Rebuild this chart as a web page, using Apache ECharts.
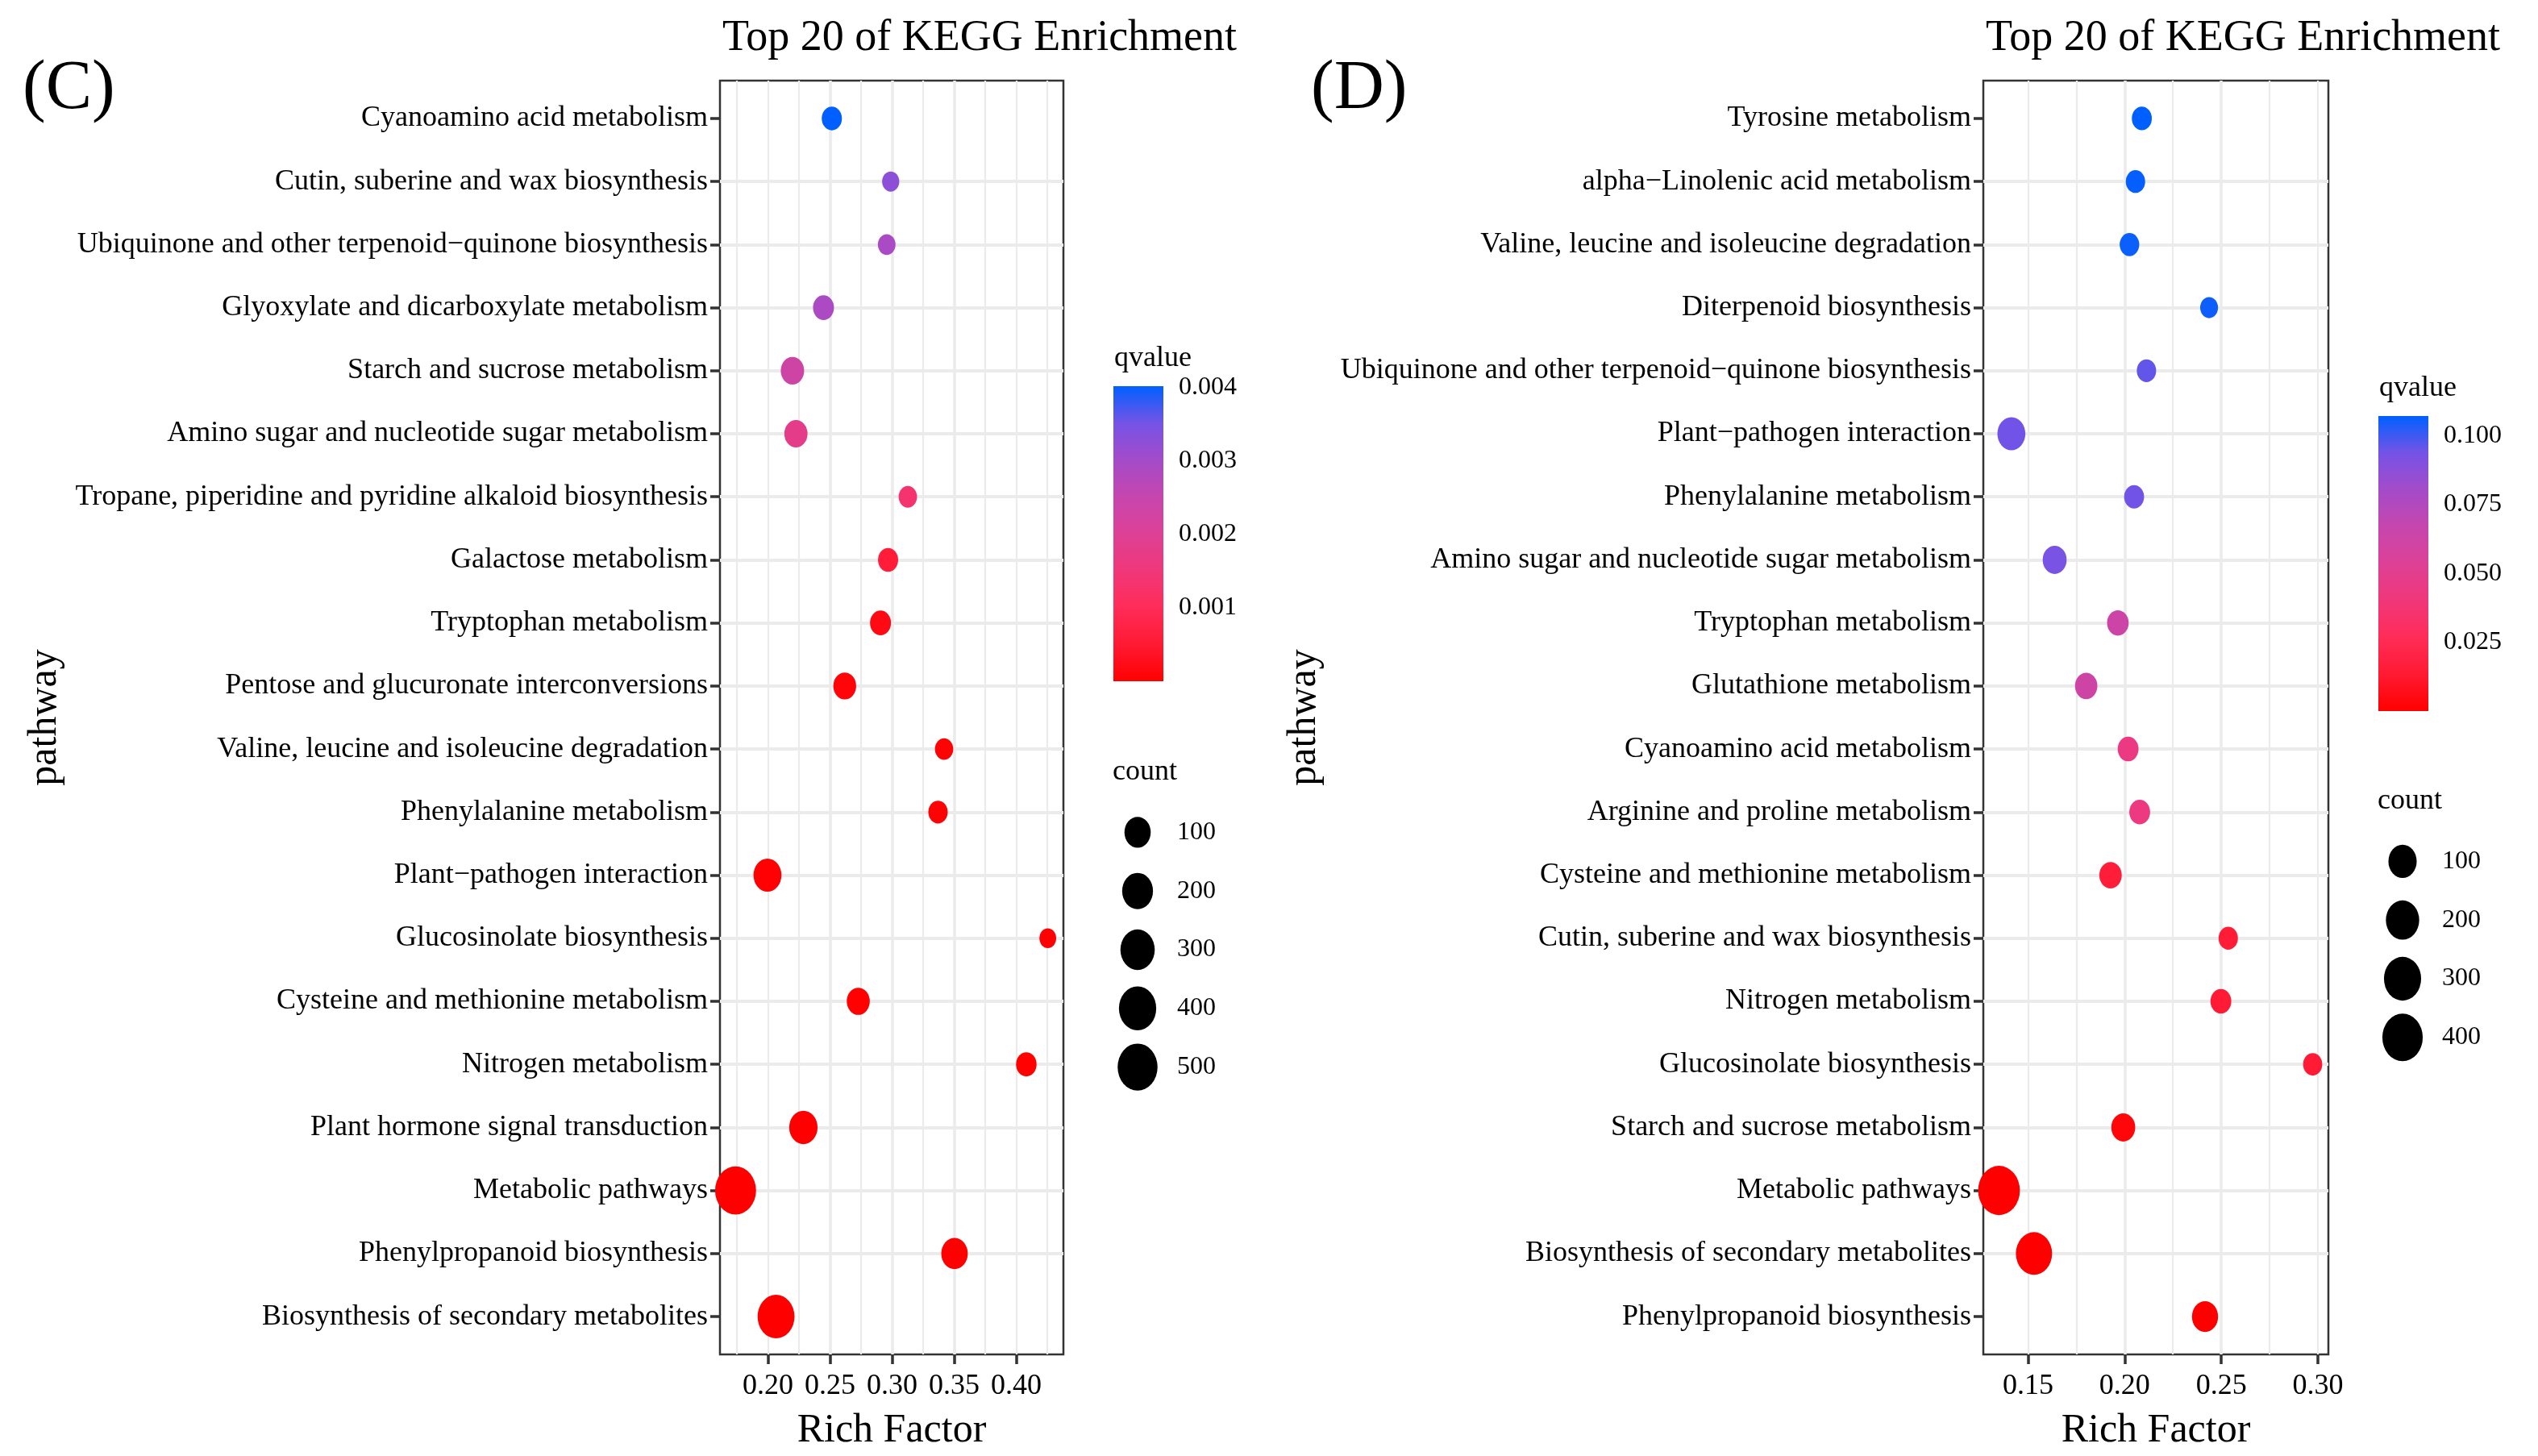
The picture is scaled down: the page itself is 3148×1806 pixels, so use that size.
<!DOCTYPE html>
<html>
<head>
<meta charset="utf-8">
<script src="https://cdn.jsdelivr.net/npm/echarts@6/dist/echarts.min.js"></script>
<style>
  html, body { margin: 0; padding: 0; background: #fff; }
  #main { width: 3148px; height: 1806px; }
</style>
</head>
<body>
<div id="main"></div>
<script>
var myChart = echarts.init(document.getElementById('main'));

// panel (C)
var namesC = [
  'Cyanoamino acid metabolism',
  'Cutin, suberine and wax biosynthesis',
  'Ubiquinone and other terpenoid\u2212quinone biosynthesis',
  'Glyoxylate and dicarboxylate metabolism',
  'Starch and sucrose metabolism',
  'Amino sugar and nucleotide sugar metabolism',
  'Tropane, piperidine and pyridine alkaloid biosynthesis',
  'Galactose metabolism',
  'Tryptophan metabolism',
  'Pentose and glucuronate interconversions',
  'Valine, leucine and isoleucine degradation',
  'Phenylalanine metabolism',
  'Plant\u2212pathogen interaction',
  'Glucosinolate biosynthesis',
  'Cysteine and methionine metabolism',
  'Nitrogen metabolism',
  'Plant hormone signal transduction',
  'Metabolic pathways',
  'Phenylpropanoid biosynthesis',
  'Biosynthesis of secondary metabolites'
];
var richC = [0.2515, 0.2989, 0.2957, 0.2448, 0.2198, 0.2226, 0.3127, 0.2968, 0.2907, 0.2619,
             0.3419, 0.3370, 0.1997, 0.4254, 0.2728, 0.4081, 0.2286, 0.1740, 0.3503, 0.2066];
var countC = [20, 3, 5, 27, 55, 52, 8, 20, 27, 48, 8, 14, 134, 2, 50, 23, 142, 543, 105, 387];
var qvalC = [0.00402, 0.00326, 0.00293, 0.0029, 0.00233, 0.0018, 0.00133, 0.0006, 0.0002, 0.0001,
             0.00004, 0.00003, 0.00002, 0.00002, 0.00001, 0.00001, 0.000005, 0.000001, 0.000001, 0.0000001];
var xTicksC = [0.20, 0.25, 0.30, 0.35, 0.40];
var qTicksC = [0.001, 0.002, 0.003, 0.004];
var sizeBreaksC = [100, 200, 300, 400, 500];

// panel (D)
var namesD = [
  'Tyrosine metabolism',
  'alpha\u2212Linolenic acid metabolism',
  'Valine, leucine and isoleucine degradation',
  'Diterpenoid biosynthesis',
  'Ubiquinone and other terpenoid\u2212quinone biosynthesis',
  'Plant\u2212pathogen interaction',
  'Phenylalanine metabolism',
  'Amino sugar and nucleotide sugar metabolism',
  'Tryptophan metabolism',
  'Glutathione metabolism',
  'Cyanoamino acid metabolism',
  'Arginine and proline metabolism',
  'Cysteine and methionine metabolism',
  'Cutin, suberine and wax biosynthesis',
  'Nitrogen metabolism',
  'Glucosinolate biosynthesis',
  'Starch and sucrose metabolism',
  'Metabolic pathways',
  'Biosynthesis of secondary metabolites',
  'Phenylpropanoid biosynthesis'
];
var richD = [0.2089, 0.2056, 0.2025, 0.2437, 0.2113, 0.1414, 0.2049, 0.1638, 0.1965, 0.1801,
             0.2018, 0.2078, 0.1927, 0.2536, 0.2498, 0.2973, 0.1993, 0.1350, 0.1531, 0.2416];
var countD = [10, 7, 8, 2, 7, 95, 10, 41, 20, 26, 15, 15, 27, 7, 15, 6, 41, 446, 273, 68];
var qvalD = [0.1071, 0.1065, 0.106, 0.1055, 0.096, 0.094, 0.094, 0.093, 0.063, 0.062,
             0.044, 0.043, 0.016, 0.015, 0.014, 0.014, 0.003, 0.00001, 0.00001, 0.0000001];
var xTicksD = [0.15, 0.20, 0.25, 0.30];
var qTicksD = [0.025, 0.050, 0.075, 0.100];
var sizeBreaksD = [100, 200, 300, 400];

// red -> blue ramp, low q at the red end
var qColors = ['#FF0000', '#FF1A33', '#FF2C58', '#F0377A', '#DD4096',
               '#C646AE', '#A44BC9', '#7553E6', '#0060FF'];

var FONT = '"Liberation Serif", "DejaVu Serif", serif';

var grids = [], xAxes = [], yAxes = [], series = [], visualMaps = [], graphics = [];

function onStep(v, step) {
  var k = v / step;
  return Math.abs(k - Math.round(k)) < 1e-6;
}

function addPanel(p) {
  var lo = Math.min.apply(null, p.rich), hi = Math.max.apply(null, p.rich);
  var pad = (hi - lo) * 0.05;
  var rows = p.names.map(function (n, i) { return i + 1; });
  var qmin = Math.min.apply(null, p.q), qmax = Math.max.apply(null, p.q);

  // main panel
  var g = grids.length;
  grids.push({ left: p.left, top: 100, width: p.width, height: 1580, show: true,
    borderColor: '#333', borderWidth: 2.5, backgroundColor: '#fff' });
  var xa = xAxes.length;
  xAxes.push({
    gridIndex: g, type: 'value', position: 'bottom', min: lo - pad, max: hi + pad,
    minInterval: 0.05, maxInterval: 0.05,
    name: 'Rich Factor', nameLocation: 'middle', nameGap: 70,
    nameTextStyle: { fontFamily: FONT, fontSize: 50, color: '#000' },
    axisLine: { show: false },
    axisTick: { customValues: p.xTicks, length: 12, lineStyle: { color: '#333', width: 3.5 } },
    axisLabel: { customValues: p.xTicks, margin: 22, fontFamily: FONT, fontSize: 36, color: '#000',
      formatter: function (v) { return onStep(v, 0.05) ? v.toFixed(2) : ''; } },
    splitLine: { showMinLine: false, showMaxLine: false, lineStyle: { color: '#EBEBEB', width: 3.5 } }
  });
  // minor vertical grid
  xAxes.push({
    gridIndex: g, type: 'value', position: 'top', min: lo - pad, max: hi + pad,
    minInterval: 0.025, maxInterval: 0.025,
    axisLine: { show: false }, axisTick: { show: false }, axisLabel: { show: false },
    splitLine: { showMinLine: false, showMaxLine: false, lineStyle: { color: '#EBEBEB', width: 2.2 } }
  });
  var ya = yAxes.length;
  yAxes.push({
    gridIndex: g, type: 'value', inverse: true, min: 0.4, max: p.names.length + 0.6,
    minInterval: 1, maxInterval: 1,
    axisLine: { show: false },
    axisTick: { customValues: rows, length: 12, lineStyle: { color: '#333', width: 3.5 } },
    axisLabel: { customValues: rows, margin: 15, fontFamily: FONT, fontSize: 36, color: '#000',
      formatter: function (v) { return onStep(v, 1) ? (p.names[Math.round(v) - 1] || '') : ''; } },
    splitLine: { showMinLine: false, showMaxLine: false, lineStyle: { color: '#EBEBEB', width: 4 } }
  });
  series.push({
    type: 'scatter', xAxisIndex: xa, yAxisIndex: ya, clip: true, silent: true,
    symbol: 'circle', itemStyle: { opacity: 1 },
    symbolSize: function (d) { var w = p.size(d[2]); return [w, w * 1.18]; },
    data: p.names.map(function (n, i) { return [p.rich[i], i + 1, p.count[i], p.q[i]]; })
  });
  visualMaps.push({ type: 'continuous', show: false, seriesIndex: series.length - 1, dimension: 3,
    min: qmin, max: qmax, inRange: { color: qColors } });

  // colour bar
  var gb = grids.length;
  grids.push({ left: p.barLeft, top: p.barTop, width: 62, height: 366 });
  var xb = xAxes.length;
  xAxes.push({ gridIndex: gb, type: 'category', data: ['qvalue'], show: false });
  var yb = yAxes.length;
  var whiteTick = { inside: true, length: 12, lineStyle: { color: '#fff', width: 2 } };
  yAxes.push({
    gridIndex: gb, type: 'value', position: 'right', min: qmin, max: qmax,
    axisLine: { show: false }, splitLine: { show: false },
    axisTick: Object.assign({ customValues: p.qTicks }, whiteTick),
    axisLabel: { customValues: p.qTicks, margin: 19, fontFamily: FONT, fontSize: 32, color: '#000',
      formatter: function (v) { return (v > qmin && onStep(v, p.qTicks[0])) ? v.toFixed(3) : ''; } }
  });
  yAxes.push({
    gridIndex: gb, type: 'value', position: 'left', min: qmin, max: qmax,
    axisLine: { show: false }, splitLine: { show: false }, axisLabel: { show: false },
    axisTick: Object.assign({ customValues: p.qTicks }, whiteTick)
  });
  var stops = qColors.map(function (c, i) { return { offset: i / (qColors.length - 1), color: c }; });
  series.push({
    type: 'bar', xAxisIndex: xb, yAxisIndex: yb, silent: true, barWidth: '100%',
    itemStyle: { color: new echarts.graphic.LinearGradient(0, 1, 0, 0, stops), opacity: 1 },
    data: [qmax]
  });

  // count legend
  var gc = grids.length;
  var n = p.breaks.length;
  grids.push({ left: p.cntX - 21, top: p.cntTop, width: 42, height: n * 72.8 });
  var xc = xAxes.length;
  xAxes.push({ gridIndex: gc, type: 'value', min: -1, max: 1, show: false });
  var yc = yAxes.length;
  yAxes.push({
    gridIndex: gc, type: 'category', inverse: true, position: 'right',
    data: p.breaks.map(String),
    axisLine: { show: false }, axisTick: { show: false }, splitLine: { show: false },
    axisLabel: { margin: 28, fontFamily: FONT, fontSize: 32, color: '#000' }
  });
  series.push({
    type: 'scatter', xAxisIndex: xc, yAxisIndex: yc, silent: true, symbol: 'circle',
    itemStyle: { color: '#000', opacity: 1 },
    symbolSize: function (d) { var w = p.size(d[2]); return [w, w * 1.18]; },
    data: p.breaks.map(function (b, i) { return [0, i, b]; })
  });

  // texts
  var txt = function (x, y, s, size, rot) {
    graphics.push({ type: 'text', x: x, y: y, rotation: rot || 0, silent: true,
      style: { text: s, font: size + 'px ' + FONT, fill: '#000',
        align: rot ? 'center' : 'left', verticalAlign: 'middle' } });
  };
  txt(p.left + 3, 48, 'Top 20 of KEGG Enrichment', 54);
  txt(p.tagX, 111, p.tag, 86);
  txt(p.pathX, 890, 'pathway', 50, Math.PI / 2);
  txt(p.barLeft + 1, p.barTop - 34, 'qvalue', 36);
  txt(p.cntX - 31, p.cntTop - 38, 'count', 36);
}

addPanel({
  names: namesC, rich: richC, count: countC, q: qvalC, xTicks: xTicksC, qTicks: qTicksC,
  breaks: sizeBreaksC, left: 893, width: 426, barLeft: 1381, barTop: 479,
  cntX: 1411, cntTop: 996, tag: '(C)', tagX: 28, pathX: 56,
  size: function (c) { return 18.85 + 1.371 * Math.sqrt(c); }
});
addPanel({
  names: namesD, rich: richD, count: countD, q: qvalD, xTicks: xTicksD, qTicks: qTicksD,
  breaks: sizeBreaksD, left: 2460, width: 428, barLeft: 2950, barTop: 516,
  cntX: 2980, cntTop: 1032, tag: '(D)', tagX: 1626, pathX: 1618,
  size: function (c) { return 20.0 + 1.506 * Math.sqrt(c); }
});

option = {
  backgroundColor: '#fff',
  animation: false,
  grid: grids,
  xAxis: xAxes,
  yAxis: yAxes,
  visualMap: visualMaps,
  series: series,
  graphic: graphics
};

myChart.setOption(option);
</script>
</body>
</html>
